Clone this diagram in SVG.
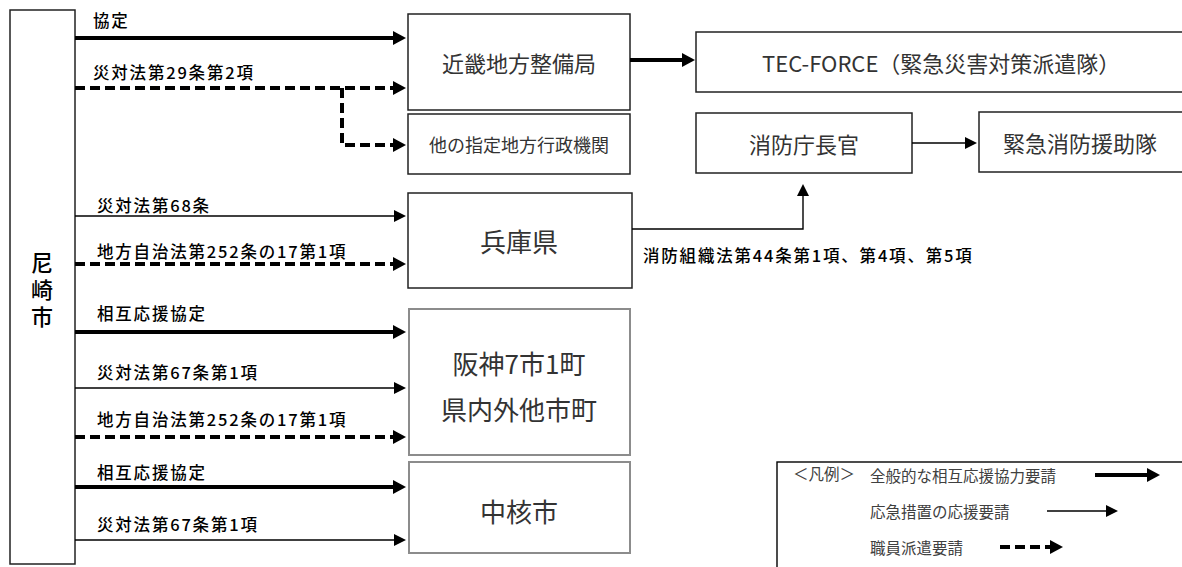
<svg xmlns="http://www.w3.org/2000/svg" width="1182" height="567" viewBox="0 0 1182 567">
<style>
.bg{fill:#fff}
.box{fill:#fff;stroke:#222;stroke-width:1.5}
.gbox{fill:#fff;stroke:#8c8c8c;stroke-width:2}
.thick{fill:none;stroke:#000;stroke-width:4}
.thin{fill:none;stroke:#000;stroke-width:1.4}
.dash{fill:none;stroke:#000;stroke-width:4;stroke-dasharray:10 5}
.lbl{font-family:"Noto Sans CJK JP","Noto Sans",sans-serif;font-size:16.5px;font-weight:500;letter-spacing:1.8px;fill:#000}
.t22{font-family:"Noto Sans CJK JP","Noto Sans",sans-serif;font-size:22px;fill:#333;dominant-baseline:central}
.t18{font-family:"Noto Sans CJK JP","Noto Sans",sans-serif;font-size:18px;fill:#333;dominant-baseline:central}
.t26{font-family:"Noto Sans CJK JP","Noto Sans",sans-serif;font-size:26px;fill:#333;dominant-baseline:central}
.leg{font-family:"Noto Sans CJK JP","Noto Sans",sans-serif;font-size:15.5px;fill:#404040;dominant-baseline:central}
</style>
<defs>
<marker id="ahB" markerUnits="userSpaceOnUse" markerWidth="13" markerHeight="14" refX="0" refY="7" orient="auto">
<path d="M0,0 L13,7 L0,14 z" fill="#000"/>
</marker>
<marker id="ahS" markerUnits="userSpaceOnUse" markerWidth="12" markerHeight="12" refX="0" refY="6" orient="auto">
<path d="M0,0 L12,6 L0,12 z" fill="#000"/>
</marker>
</defs>
<rect class="bg" x="0" y="0" width="1182" height="567"/>

<g id="amagasaki">
<rect class="box" x="10" y="10" width="65" height="554"/>
<text x="42" y="292" text-anchor="middle" writing-mode="vertical-rl" style="font-family:'Noto Sans CJK JP',sans-serif;font-size:22px;font-weight:500;letter-spacing:5px;fill:#000">尼崎市</text>
</g>

<g id="kinki">
<rect class="box" x="408" y="14" width="222" height="96"/>
<text class="t22" x="519" y="62" text-anchor="middle">近畿地方整備局</text>
</g>
<g id="other-agencies">
<rect class="box" x="408" y="114" width="222" height="60"/>
<text class="t18" x="519" y="144" text-anchor="middle">他の指定地方行政機関</text>
</g>
<g id="tecforce">
<rect class="box" x="696" y="32" width="500" height="60"/>
<text class="t22" x="762" y="62">TEC-FORCE（緊急災害対策派遣隊）</text>
</g>
<g id="shobocho">
<rect class="box" x="696" y="113" width="216" height="60"/>
<text class="t22" x="804" y="143" text-anchor="middle">消防庁長官</text>
</g>
<g id="kinkyu-shobo">
<rect class="box" x="979" y="112" width="220" height="60"/>
<text class="t22" x="1003" y="142">緊急消防援助隊</text>
</g>
<g id="hyogo">
<rect class="box" x="408" y="193" width="224" height="95"/>
<text class="t26" x="519" y="240" text-anchor="middle">兵庫県</text>
</g>
<g id="hanshin">
<rect class="gbox" x="409" y="309" width="221" height="146"/>
<text class="t26" x="519" y="362" text-anchor="middle">阪神7市1町</text>
<text class="t26" x="519" y="408" text-anchor="middle">県内外他市町</text>
</g>
<g id="chukakushi">
<rect class="gbox" x="409" y="462" width="221" height="91"/>
<text class="t26" x="519" y="510" text-anchor="middle">中核市</text>
</g>

<g id="connectors">
<line class="thick" x1="75" y1="38" x2="393" y2="38" marker-end="url(#ahB)"/>
<line class="dash" x1="75" y1="88" x2="393" y2="88" marker-end="url(#ahB)"/>
<path class="dash" d="M342,88 V145 H393" marker-end="url(#ahB)"/>
<line class="thick" x1="630" y1="60" x2="682" y2="60" marker-end="url(#ahB)"/>
<line class="thin" x1="912" y1="143" x2="965" y2="143" marker-end="url(#ahS)"/>
<line class="thin" x1="75" y1="216" x2="394" y2="216" marker-end="url(#ahS)"/>
<line class="dash" x1="75" y1="264" x2="393" y2="264" marker-end="url(#ahB)"/>
<line class="thick" x1="75" y1="332" x2="393" y2="332" marker-end="url(#ahB)"/>
<line class="thin" x1="75" y1="388" x2="394" y2="388" marker-end="url(#ahS)"/>
<line class="dash" x1="75" y1="437" x2="393" y2="437" marker-end="url(#ahB)"/>
<line class="thick" x1="75" y1="487" x2="393" y2="487" marker-end="url(#ahB)"/>
<line class="thin" x1="75" y1="540" x2="394" y2="540" marker-end="url(#ahS)"/>
<path class="thin" d="M632,229 H803 V196" marker-end="url(#ahS)"/>
<text class="lbl" x="93" y="27">協定</text>
<text class="lbl" x="93" y="79">災対法第29条第2項</text>
<text class="lbl" x="97" y="212">災対法第68条</text>
<text class="lbl" x="97" y="258">地方自治法第252条の17第1項</text>
<text class="lbl" x="97" y="320">相互応援協定</text>
<text class="lbl" x="97" y="379">災対法第67条第1項</text>
<text class="lbl" x="97" y="426">地方自治法第252条の17第1項</text>
<text class="lbl" x="97" y="479">相互応援協定</text>
<text class="lbl" x="97" y="531">災対法第67条第1項</text>
<text class="lbl" x="643" y="262">消防組織法第44条第1項、第4項、第5項</text>
</g>

<g id="legend">
<rect class="box" x="777" y="462" width="420" height="120" style="stroke:#000;stroke-width:1.4"/>
<text class="leg" x="793" y="473">＜凡例＞</text>
<text class="leg" x="870" y="475">全般的な相互応援協力要請</text>
<text class="leg" x="870" y="511">応急措置の応援要請</text>
<text class="leg" x="870" y="547">職員派遣要請</text>
<line class="thick" x1="1095" y1="475" x2="1147" y2="475" marker-end="url(#ahB)"/>
<line class="thin" x1="1047" y1="511" x2="1106" y2="511" marker-end="url(#ahS)"/>
<line class="dash" x1="1000" y1="547" x2="1050" y2="547" marker-end="url(#ahB)"/>
</g>
</svg>
